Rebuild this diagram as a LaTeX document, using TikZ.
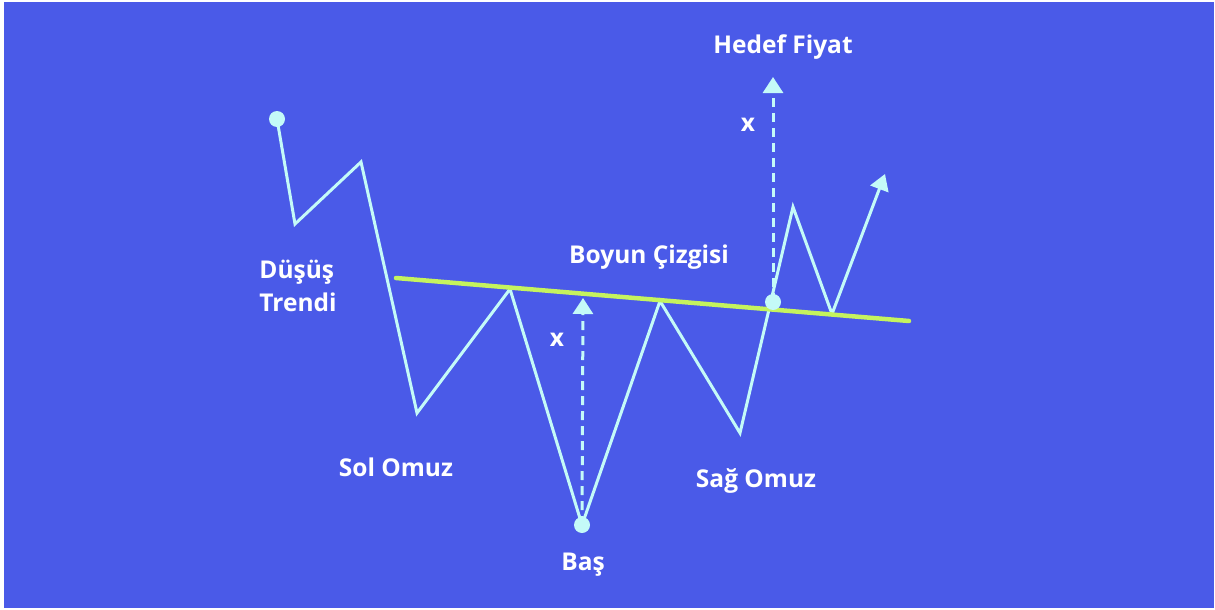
\documentclass[tikz,border=0pt]{standalone}
\usepackage{fontspec}
\setmainfont{Open Sans}
\usetikzlibrary{arrows.meta}
\definecolor{bg}{RGB}{74,90,232}
\definecolor{ln}{RGB}{196,250,248}
\definecolor{neck}{RGB}{197,243,94}
\begin{document}
\begin{tikzpicture}[x=1pt,y=-1pt,
  zig/.style={draw=ln,line width=3pt,line join=miter},
  neckline/.style={draw=neck,line width=4.5pt,line cap=round},
  dot/.style={circle,fill=ln,inner sep=0pt,minimum size=16pt},
  measure/.style={draw=ln,line width=3pt,dash pattern=on 9pt off 6pt,-{Triangle[width=20pt,length=16pt,sep=0pt]}},
  lbl/.style={text=white,font=\bfseries\fontsize{24.5}{33}\selectfont,align=left}]
\fill[white] (0,0) rectangle (1215,610);
\fill[bg] (4,2) rectangle (1214,608);
\useasboundingbox (0,0) rectangle (1215,610);
% zigzag points
\coordinate (p0) at (277,119);
\coordinate (p1) at (295,224);
\coordinate (p2) at (361,162);
\coordinate (p3) at (417,413);
\coordinate (p4) at (510,289);
\coordinate (p5) at (582,525);
\coordinate (p6) at (660,301);
\coordinate (p7) at (740,433);
\coordinate (p8) at (793,207);
\coordinate (p9) at (832,314);
\coordinate (p10) at (885,174);
\coordinate (nl) at (396,278);
\coordinate (nr) at (909,321);
\coordinate (lt) at (583,298);
\coordinate (rt) at (773,77);
\draw[zig] (p0) -- (p1) -- (p2) -- (p3) -- (p4) -- (p5) -- (p6) -- (p7) -- (p8) -- (p9);
\draw[draw=ln,line width=3pt,-{Triangle[width=19pt,length=16pt]}] (p9) -- (p10);
\draw[neckline] (nl) -- (nr);
\node[dot] (start) at (p0) {};
\node[dot] (head) at (p5) {};
\node[dot] (brk) at (773,302) {};
\draw[measure] (head.center) -- (lt);
\draw[measure] (brk.center) -- (rt);
% labels
\node[lbl] (hedef) at (783,47) {Hedef Fiyat};
\node[lbl] (x1) at (748,125) {x};
\node[lbl] (x2) at (557,340) {x};
\node[lbl] (trend) at (298,286) {Düşüş\\Trendi};
\node[lbl] (boyun) at (649,257) {Boyun Çizgisi};
\node[lbl] (sol) at (396,467) {Sol Omuz};
\node[lbl] (bas) at (583,565) {Baş};
\node[lbl] (sag) at (756,481) {Sağ Omuz};
\end{tikzpicture}
\end{document}
